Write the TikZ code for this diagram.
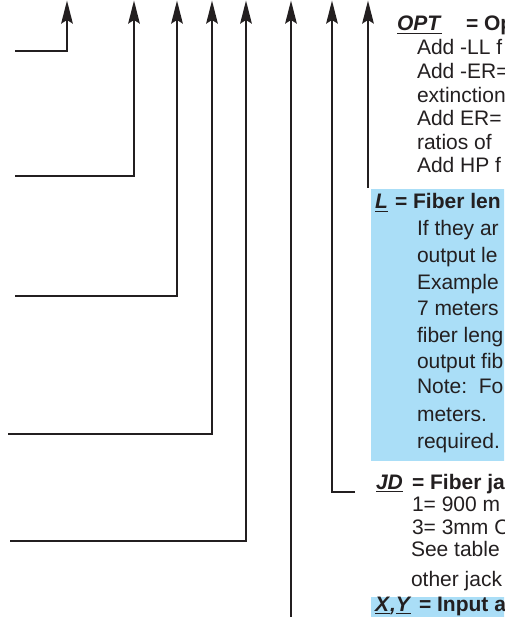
\documentclass[tikz,border=0pt]{standalone}
\usepackage{fontspec}
\setmainfont{Liberation Sans}
\usetikzlibrary{arrows.meta}
\definecolor{ink}{HTML}{231F20}
\definecolor{boxblue}{RGB}{170,222,247}
\newcommand{\myul}[1]{\setbox0\hbox{#1}\rlap{\rule[-3.4pt]{\wd0}{1.6pt}}\box0}
\newcommand{\lab}[1]{\myul{\textbf{\textit{#1}}}}
\begin{document}
\begin{tikzpicture}[x=1pt,y=-1pt,
  lead/.style={draw=ink,line width=2.4pt,-{Stealth[length=23pt,width=11.5pt,inset=3.5pt]}},
  txt/.style={anchor=base west,inner sep=0pt,outer sep=0pt,text=ink,font=\fontsize{21}{24}\selectfont},
  panel/.style={fill=boxblue,draw=none}]
\useasboundingbox (0,0) rectangle (504,617);
\clip (0,0) rectangle (504,617);
% shaded panels
\fill[panel] (371,189) rectangle (510,461);
\fill[panel] (371,597) rectangle (510,622);
% leader coordinates
\coordinate (s1) at (15,51);   \coordinate (b1) at (67,51);   \coordinate (t1) at (67,0.5);
\coordinate (s2) at (15,176);  \coordinate (b2) at (134,176); \coordinate (t2) at (134,0.5);
\coordinate (s3) at (15,296);  \coordinate (b3) at (177,296); \coordinate (t3) at (177,0.5);
\coordinate (s4) at (8,434);   \coordinate (b4) at (212,434); \coordinate (t4) at (212,0.5);
\coordinate (s5) at (10,541);  \coordinate (b5) at (246,541); \coordinate (t5) at (246,0.5);
\coordinate (s6) at (291,622); \coordinate (t6) at (291,0.5);
\coordinate (s7) at (355,492); \coordinate (b7) at (332,492); \coordinate (t7) at (332,0.5);
\coordinate (s8) at (368,188); \coordinate (t8) at (368,0.5);
\draw[lead] (s1) -- (b1) -- (t1);
\draw[lead] (s2) -- (b2) -- (t2);
\draw[lead] (s3) -- (b3) -- (t3);
\draw[lead] (s4) -- (b4) -- (t4);
\draw[lead] (s5) -- (b5) -- (t5);
\draw[lead] (s6) -- (t6);
\draw[lead] (s7) -- (b7) -- (t7);
\draw[lead] (s8) -- (t8);
% OPT
\node[txt] (opt) at (397,31) {\lab{OPT}};
\node[txt] (opteq) at (466,31) {\textbf{= Op}};
\node[txt] (o1) at (417,55) {Add -LL f};
\node[txt] (o2) at (417,79) {Add -ER=};
\node[txt] (o3) at (417,103) {extinction};
\node[txt] (o4) at (417,126) {Add ER=};
\node[txt] (o5) at (417,150) {ratios of};
\node[txt] (o6) at (417,173) {Add HP f};
% L
\node[txt] (ll) at (375,209) {\lab{L}};
\node[txt] (lleq) at (395,209) {\textbf{= Fiber len}};
\node[txt] (l1) at (417,236) {If they ar};
\node[txt] (l2) at (417,262) {output le};
\node[txt] (l3) at (417,289) {Example};
\node[txt] (l4) at (417,315) {7 meters};
\node[txt] (l5) at (417,342) {fiber leng};
\node[txt] (l6) at (417,368) {output fib};
\node[txt] (l7) at (417,393) {Note:\ \ Fo};
\node[txt] (l8) at (417,421) {meters.};
\node[txt] (l9) at (417,448) {required.};
% JD
\node[txt] (jd) at (376,489) {\lab{JD}};
\node[txt] (jdeq) at (412,489) {\textbf{= Fiber ja}};
\node[txt] (j1) at (412,511) {1= 900 m};
\node[txt] (j2) at (412,534) {3= 3mm O};
\node[txt] (j3) at (411,556) {See table};
\node[txt] (j4) at (411,586) {other jack};
% X,Y
\node[txt] (xy) at (375,611) {\myul{\textbf{\textit{X}}}\textbf{\textit{,}}\myul{\textbf{\textit{Y}}}};
\node[txt] (xyeq) at (419,611) {\textbf{= Input a}};
\end{tikzpicture}
\end{document}
